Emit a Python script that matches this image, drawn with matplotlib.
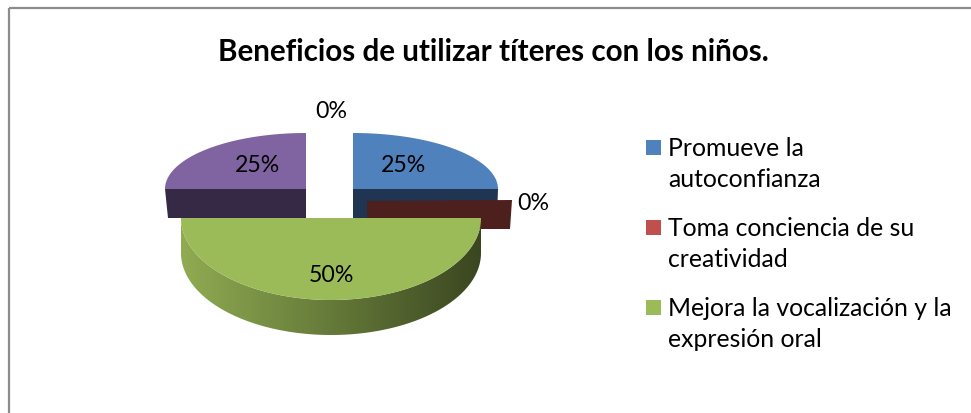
import numpy as np
import matplotlib
matplotlib.use("Agg")
import matplotlib.pyplot as plt
from matplotlib.patches import Polygon, Rectangle
from matplotlib.colors import LinearSegmentedColormap

plt.rcParams['font.family'] = ['Lato', 'DejaVu Sans']

title = "Beneficios de utilizar títeres con los niños."
values = [25, 0, 50, 25, 0]
pct_labels = ["25%", "0%", "50%", "25%", "0%"]
legend_labels = ["Promueve la\nautoconfianza",
                 "Toma conciencia de su\ncreatividad",
                 "Mejora la vocalización y la\nexpresión oral"]
top_colors = ["#4F81BD", "#C0504D", "#9BBB59", "#8064A2", "#4BACC6"]
cut_colors = ["#1F3552", "#4D1F1D", "#3F4D22", "#362945", "#1F4D5A"]

# slice geometry in figure pixels: centre x, centre y, rx, ry, depth
geom = [(353, 189, 145, 56, 29),
        (367, 201, 145, 56, 28),
        (331, 218, 150, 82, 35),
        (306, 189, 141, 56, 29),
        (330, 160, 145, 56, 29)]
label_pos = [(403, 165), (533, 203), (331, 275), (257, 165), (331, 111)]

fig = plt.figure(figsize=(9.71, 4.13), dpi=100, facecolor="white")
ax = fig.add_axes([0, 0, 1, 1])
ax.axis("off")

# outer frame
ax.plot([8.5, 8.5], [413, 8], color="#8c8c8c", lw=1.6, solid_capstyle="butt")
ax.plot([8.5, 971], [8, 8], color="#8c8c8c", lw=1.6, solid_capstyle="butt")

def arc(g, a0, a1, n=160):
    t = np.radians(np.linspace(a0, a1, n))
    return g[0] + g[2] * np.cos(t), g[1] - g[3] * np.sin(t)

total = sum(values)
bounds = 90 - np.concatenate([[0], np.cumsum(values)]) / total * 360
order = [4, 0, 3, 1, 2]
side_cmap = LinearSegmentedColormap.from_list("side", ["#90AB52", "#657A39", "#3A4620"])
for i in order:
    g = geom[i]
    a0, a1 = bounds[i], bounds[i + 1]
    if values[i] == 0:
        if i == 1:  # empty slice: only its cut face shows
            x1 = g[0] + g[2]
            ax.add_patch(Polygon([(g[0], g[1]), (x1, g[1] - 1), (x1 - 2, g[1] + g[4]), (g[0], g[1] + g[4])],
                                 closed=True, fc=cut_colors[i], ec="none", zorder=2))
        continue
    x, y = arc(g, a0, a1)
    z = 2 + (i == 2)
    if i == 2:
        # curved side with a horizontal shading
        side = Polygon(np.column_stack([np.r_[x, x[::-1]], np.r_[y, y[::-1] + g[4]]]), closed=True,
                       transform=ax.transData, fc="none", ec="none")
        ax.add_patch(side)
        im = ax.imshow(np.linspace(0, 1, 256)[None, :], cmap=side_cmap, aspect="auto",
                       extent=(g[0] - g[2], g[0] + g[2], g[1] + g[3] + g[4], g[1]), zorder=z)
        im.set_clip_path(side)
    else:
        # straight cut face below the flat edge
        edge, skew = (g[0] + g[2], -1) if i == 0 else (g[0] - g[2], 3)
        ax.add_patch(Polygon([(edge, g[1]), (g[0], g[1]), (g[0], g[1] + g[4]), (edge + skew, g[1] + g[4])],
                             closed=True, fc=cut_colors[i], ec="none", zorder=z))
    ax.add_patch(Polygon(np.column_stack([np.r_[g[0], x], np.r_[g[1], y]]), closed=True,
                         fc=top_colors[i], ec="none", zorder=z + 0.1))

ax.set_xlim(0, 971)
ax.set_ylim(413, 0)

for (px, py), s in zip(label_pos, pct_labels):
    ax.text(px, py, s, ha="center", va="center", fontsize=16.7, color="black", zorder=6)

ax.text(493, 52, title, ha="center", va="center", fontsize=21.3, fontweight="bold", color="black")

for k, (lab, yy) in enumerate(zip(legend_labels, [147.5, 227.5, 307.5])):
    ax.add_patch(Rectangle((646, yy - 7.5), 15, 15, fc=top_colors[k], ec="none"))
    ax.text(668, yy + 16.5, lab, ha="left", va="center", fontsize=17.8, linespacing=1.4, color="black")

fig.savefig("out.png", dpi=100)
